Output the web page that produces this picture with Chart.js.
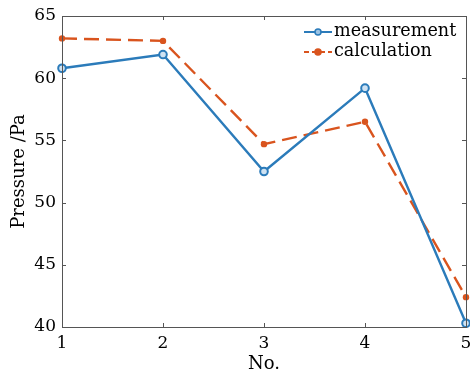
<!DOCTYPE html>
<html>
<head>
<meta charset="utf-8">
<script src="https://cdn.jsdelivr.net/npm/chart.js@4"></script>
<style>
html,body{margin:0;padding:0;background:#fff;overflow:hidden;}
#wrap{width:470px;height:375px;position:relative;}
</style>
</head>
<body>
<div id="wrap"><canvas id="c" width="470" height="375"></canvas></div>
<script>
const categories = [1, 2, 3, 4, 5];
const measurement = [60.8, 61.9, 52.5, 59.2, 40.3];
const calculation = [63.2, 63.0, 54.7, 56.5, 42.4];
const yTicks = [40, 45, 50, 55, 60, 65];
const seriesNames = ['measurement', 'calculation'];

const BLUE = '#2b7bba';
const ORANGE = '#d9541e';
const FONT = 'DejaVu Serif';

const framePlugin = {
  id: 'frame',
  afterDraw(chart) {
    const {ctx, chartArea: a, scales} = chart;
    ctx.save();
    ctx.strokeStyle = '#555';
    ctx.lineWidth = 1;
    ctx.strokeRect(Math.round(a.left) + 0.5, Math.round(a.top) + 0.5,
                   Math.round(a.right - a.left), Math.round(a.bottom - a.top));
    // inward ticks
    ctx.beginPath();
    categories.forEach(v => {
      const x = Math.round(scales.x.getPixelForValue(v)) + 0.5;
      ctx.moveTo(x, a.bottom); ctx.lineTo(x, a.bottom - 4);
      ctx.moveTo(x, a.top); ctx.lineTo(x, a.top + 4);
    });
    yTicks.forEach(v => {
      const y = Math.round(scales.y.getPixelForValue(v)) + 0.5;
      ctx.moveTo(a.left, y); ctx.lineTo(a.left + 4, y);
      ctx.moveTo(a.right, y); ctx.lineTo(a.right - 4, y);
    });
    ctx.stroke();

    // legend
    const lx0 = 304, lx1 = 332, tx = 334;
    const rows = [
      {y: 32, color: BLUE, dash: [], open: true},
      {y: 52, color: ORANGE, dash: [5, 3], open: false}
    ];
    ctx.font = '17.6px "' + FONT + '"';
    ctx.textBaseline = 'middle';
    ctx.textAlign = 'left';
    rows.forEach((r, i) => {
      ctx.strokeStyle = r.color;
      ctx.lineWidth = 2;
      ctx.setLineDash(r.dash);
      ctx.beginPath(); ctx.moveTo(lx0, r.y); ctx.lineTo(lx1, r.y); ctx.stroke();
      ctx.setLineDash([]);
      ctx.beginPath(); ctx.arc((lx0 + lx1) / 2, r.y, 3, 0, Math.PI * 2);
      ctx.fillStyle = r.open ? '#9cc3e3' : r.color;
      ctx.fill();
      ctx.lineWidth = 1.5; ctx.stroke();
      ctx.fillStyle = '#000';
      ctx.fillText(seriesNames[i], tx, r.y - 1);
    });
    ctx.restore();
  }
};

new Chart(document.getElementById('c'), {
  type: 'line',
  data: {
    datasets: [
      {
        label: seriesNames[0],
        data: categories.map((c, i) => ({x: c, y: measurement[i]})),
        borderColor: BLUE,
        backgroundColor: '#ffffff',
        borderWidth: 2.4,
        pointRadius: 3.8,
        pointBorderWidth: 2,
        pointBackgroundColor: '#cfe2f2',
        pointBorderColor: BLUE,
        tension: 0,
        clip: false
      },
      {
        label: seriesNames[1],
        data: categories.map((c, i) => ({x: c, y: calculation[i]})),
        borderColor: ORANGE,
        backgroundColor: ORANGE,
        borderWidth: 2.4,
        borderDash: [15, 7],
        pointRadius: 3.2,
        pointBorderWidth: 0,
        pointBackgroundColor: ORANGE,
        tension: 0,
        clip: false
      }
    ]
  },
  options: {
    responsive: false,
    animation: false,
    devicePixelRatio: 1,
    layout: { autoPadding: false, padding: {top: 16, right: 4, left: 0, bottom: 0} },
    plugins: { legend: {display: false}, tooltip: {enabled: false} },
    scales: {
      x: {
        type: 'linear',
        min: 1, max: 5,
        afterFit(s) { s.height = 48; s.paddingLeft = 0; s.paddingRight = 0; },
        afterBuildTicks(s) { s.ticks = categories.map(v => ({value: v})); },
        grid: { display: false, drawTicks: false },
        border: { display: false },
        ticks: { padding: 6, color: '#000', font: {family: FONT, size: 17}, maxRotation: 0 },
        title: { display: true, text: 'No.', color: '#000', font: {family: FONT, size: 18}, padding: {top: 0, bottom: 0} }
      },
      y: {
        min: 40, max: 65,
        afterFit(s) { s.width = 62; s.paddingTop = 0; s.paddingBottom = 0; },
        afterBuildTicks(s) { s.ticks = yTicks.map(v => ({value: v})); },
        grid: { display: false, drawTicks: false },
        border: { display: false },
        ticks: { padding: 6, color: '#000', font: {family: FONT, size: 17} },
        title: { display: true, text: 'Pressure /Pa', color: '#000', font: {family: FONT, size: 18}, padding: {top: 9, bottom: 0} }
      }
    }
  },
  plugins: [framePlugin]
});
</script>
</body>
</html>
